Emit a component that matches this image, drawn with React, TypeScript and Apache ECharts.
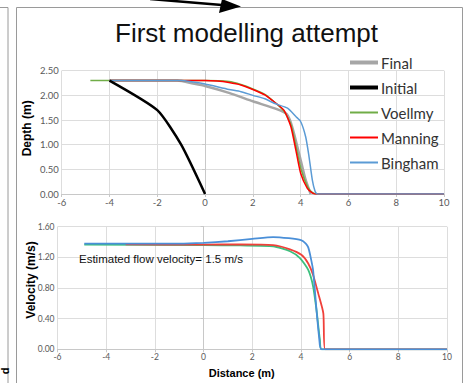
import React, { useEffect, useRef } from "react";
import * as echarts from "echarts";

// ---- Depth profiles (distance m, depth m) ----
const depthFinal: number[][] = [
  [-4, 2.3], [-1.15, 2.3], [-0.5, 2.24], [0, 2.19], [1, 2.05], [2, 1.88], [3, 1.72],
  [3.4, 1.63], [3.55, 1.5], [3.72, 1.23], [4.0, 0.69], [4.2, 0.3], [4.42, 0],
];
const depthInitial: number[][] = [[-4, 2.3], [-2, 1.7], [-1, 1.0], [0, 0]];
const depthVoellmy: number[][] = [
  [-4.8, 2.3], [0, 2.3], [1, 2.28], [1.5, 2.22], [2, 2.13], [2.5, 2.02], [2.89, 1.87],
  [3.3, 1.68], [3.6, 1.4], [3.82, 0.93], [4.03, 0.48], [4.3, 0.14], [4.5, 0.03], [4.72, 0], [10, 0],
];
const depthManning: number[][] = [
  [-4, 2.3], [0, 2.3], [0.5, 2.29], [1, 2.26], [1.5, 2.21], [2, 2.12], [2.5, 2.01], [2.89, 1.87],
  [3.3, 1.7], [3.59, 1.37], [3.8, 0.89], [4.0, 0.42], [4.28, 0.115], [4.5, 0.02], [4.64, 0], [10, 0],
];
const depthBingham: number[][] = [
  [-4, 2.3], [-1, 2.3], [-0.5, 2.27], [0, 2.23], [1, 2.12], [1.5, 2.075], [2, 2.0], [2.5, 1.93],
  [2.89, 1.84], [3.45, 1.74], [3.8, 1.57], [4.0, 1.47], [4.21, 1.16], [4.35, 0.76], [4.49, 0.28],
  [4.6, 0.06], [4.7, 0], [10, 0],
];

// ---- Velocity profiles (distance m, velocity m/s) ----
const velVoellmy: number[][] = [
  [-4.9, 1.365], [0, 1.36], [1.5, 1.355], [2.86, 1.345], [3.55, 1.28], [3.96, 1.19], [4.3, 1.035],
  [4.5, 0.82], [4.64, 0.51], [4.78, 0.12], [4.85, 0], [10, 0],
];
const velManning: number[][] = [
  [-3.2, 1.37], [0, 1.365], [1.5, 1.37], [2.86, 1.36], [3.55, 1.305], [4.03, 1.23], [4.3, 1.12],
  [4.5, 0.97], [4.71, 0.73], [4.92, 0.47], [4.99, 0], [10, 0],
];
const velBingham: number[][] = [
  [-4.9, 1.38], [-1, 1.38], [0, 1.39], [1, 1.41], [2, 1.44], [2.86, 1.465], [3.5, 1.45], [4, 1.425],
  [4.2, 1.38], [4.3, 1.33], [4.4, 1.2], [4.5, 1.03], [4.64, 0.51], [4.75, 0.15], [4.85, 0], [10, 0],
];

const legendNames = ["Final", "Initial", "Voellmy", "Manning", "Bingham"];
const legendThickness = [4, 4, 2, 2, 2];
const xTicks = { min: -6, max: 10, interval: 2 };
const depthTicks = { min: 0, max: 2.5, interval: 0.5 };
const velTicks = { min: 0, max: 1.6, interval: 0.4 };

const LABEL_FONT = "Lato, 'Open Sans', sans-serif";
const AXIS_FONT = "'Liberation Sans', Arial, sans-serif";

export default function App() {
  const ref = useRef<HTMLDivElement>(null);
  useEffect(() => {
    if (!ref.current) return;
    const chart = echarts.init(ref.current, null, { renderer: "svg" });
    const gridLine = { show: true, lineStyle: { color: "#DDDDDD", width: 1 } };
    const axisLine = { show: true, lineStyle: { color: "#C8C8C8" } };
    const axisTick = { show: true, length: 3, lineStyle: { color: "#C8C8C8" } };
    const line = (name: string, data: number[][], color: string, width: number, axis: number, z = 2) => ({
      type: "line",
      name,
      data,
      xAxisIndex: axis,
      yAxisIndex: axis,
      symbol: "none",
      smooth: 0.2,
      z,
      lineStyle: { color, width },
      itemStyle: { color },
    });
    chart.setOption({
      animation: false,
      backgroundColor: "#FFFFFF",
      title: {
        text: "First modelling attempt",
        left: 110,
        top: 15,
        textStyle: { fontFamily: AXIS_FONT, fontSize: 26, fontWeight: "normal", color: "#111" },
      },
      legend: {
        orient: "vertical",
        left: 345,
        top: 50,
        itemWidth: 28,
        itemHeight: 14,
        itemGap: 10,
        symbolKeepAspect: true,
        textStyle: { fontFamily: LABEL_FONT, fontSize: 15, color: "#333", padding: [0, 0, 0, -2] },
        data: legendNames.map((name, i) => ({
          name,
          icon: `path://M0,0H28V${legendThickness[i]}H0Z`,
        })),
      },
      grid: [
        { left: 61.7, right: 20, top: 70.7, height: 123.3 },
        { left: 57.5, right: 17, top: 226.7, height: 122.6 },
      ],
      xAxis: [
        {
          type: "value", gridIndex: 0, ...xTicks,
          axisLine, axisTick, splitLine: gridLine,
          axisLabel: { fontFamily: LABEL_FONT, fontSize: 9.5, color: "#595959", margin: 3 },
        },
        {
          type: "value", gridIndex: 1, ...xTicks,
          axisLine, axisTick, splitLine: gridLine,
          axisLabel: { fontFamily: LABEL_FONT, fontSize: 8.5, color: "#595959", margin: 3 },
          name: "Distance (m)",
          nameLocation: "middle",
          nameGap: 18,
          nameMoveOverlap: false,
          nameTextStyle: { fontFamily: AXIS_FONT, fontSize: 11, fontWeight: "bold", color: "#000", padding: [0, 21, 0, 0] },
        },
      ],
      yAxis: [
        {
          type: "value", gridIndex: 0, ...depthTicks,
          axisLine, axisTick, splitLine: gridLine,
          axisLabel: { fontFamily: LABEL_FONT, fontSize: 9.5, color: "#595959", margin: 3, formatter: (v: number) => v.toFixed(2) },
          name: "Depth (m)",
          nameLocation: "middle",
          nameGap: 29,
          nameMoveOverlap: false,
          nameTextStyle: { fontFamily: AXIS_FONT, fontSize: 12, fontWeight: "bold", color: "#000", padding: [0, 0, 0, 8] },
        },
        {
          type: "value", gridIndex: 1, ...velTicks,
          axisLine, axisTick, splitLine: gridLine,
          axisLabel: { fontFamily: LABEL_FONT, fontSize: 8.5, color: "#595959", margin: 3, formatter: (v: number) => v.toFixed(2) },
          name: "Velocity (m/s)",
          nameLocation: "middle",
          nameGap: 21,
          nameMoveOverlap: false,
          nameTextStyle: { fontFamily: AXIS_FONT, fontSize: 12, fontWeight: "bold", color: "#000", padding: [0, 0, 0, 16] },
        },
      ],
      series: [
        line("Final", depthFinal, "#A6A6A6", 2.5, 0, 2),
        line("Initial", depthInitial, "#000000", 2.5, 0, 3),
        line("Voellmy", depthVoellmy, "#70AD47", 1.5, 0, 2),
        line("Manning", depthManning, "#FF0000", 1.5, 0, 2),
        line("Bingham", depthBingham, "#5B9BD5", 1.5, 0, 2),
        line("Voellmy velocity", velVoellmy, "#3CC07E", 1.8, 1, 2),
        line("Manning velocity", velManning, "#F0403A", 1.8, 1, 2),
        line("Bingham velocity", velBingham, "#4A8FD8", 1.8, 1, 2),
      ],
      graphic: [
        { type: "line", shape: { x1: 0, y1: 7.5, x2: 8, y2: 7.5 }, style: { stroke: "#9A9A9A", lineWidth: 1 } },
        { type: "line", shape: { x1: 8, y1: 7.5, x2: 8, y2: 383 }, style: { stroke: "#9A9A9A", lineWidth: 1 } },
        { type: "line", shape: { x1: 16.5, y1: 7.5, x2: 16.5, y2: 383 }, style: { stroke: "#9A9A9A", lineWidth: 1 } },
        { type: "line", shape: { x1: 16.5, y1: 7.5, x2: 462.5, y2: 7.5 }, style: { stroke: "#9A9A9A", lineWidth: 1 } },
        { type: "line", shape: { x1: 462.5, y1: 7.5, x2: 462.5, y2: 383 }, style: { stroke: "#9A9A9A", lineWidth: 1 } },
        { type: "line", shape: { x1: 150, y1: -1, x2: 228, y2: 5.5 }, style: { stroke: "#000", lineWidth: 2.5 } },
        { type: "polygon", shape: { points: [[222, -1], [241, 6.5], [219, 13]] }, style: { fill: "#000" } },
        {
          type: "text",
          x: 5, y: 371, rotation: Math.PI / 2,
          style: { text: "d", fontFamily: AXIS_FONT, fontSize: 11, fontWeight: "bold", fill: "#000", align: "center", verticalAlign: "middle" },
        },
        {
          type: "text",
          x: 79, y: 259,
          style: { text: "Estimated flow velocity= 1.5 m/s", fontFamily: AXIS_FONT, fontSize: 11.5, fill: "#111", align: "left", verticalAlign: "middle" },
          z: 10,
        },
      ],
    });
    return () => chart.dispose();
  }, []);
  return <div ref={ref} style={{ position: "fixed", left: 0, top: 0, width: 464, height: 383 }} />;
}
